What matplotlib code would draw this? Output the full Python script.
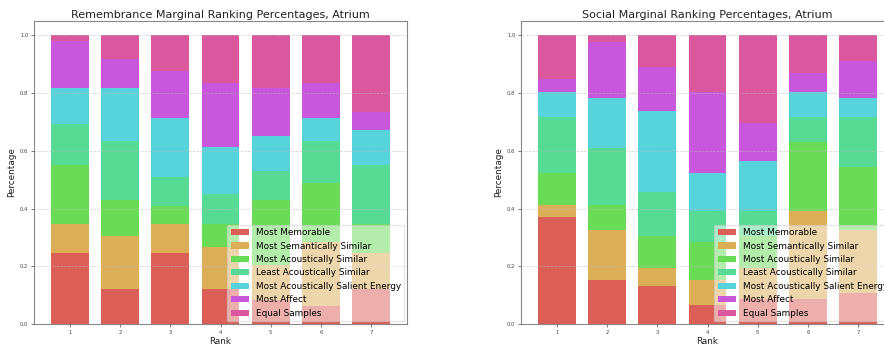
import numpy as np
import matplotlib
matplotlib.use("Agg")
import matplotlib.pyplot as plt
import seaborn as sns

# counts per method at each rank (rank 1..7)
ranks = [1, 2, 3, 4, 5, 6, 7]
methods = ["Most Memorable", "Most Semantically Similar", "Most Acoustically Similar",
           "Least Acoustically Similar", "Most Acoustically Salient Energy",
           "Most Affect", "Equal Samples"]

# Remembrance, 49 rankings
rem_total = 49
rem_memorable = [12, 6, 12, 6, 4, 3, 6]
rem_semantic = [5, 9, 5, 7, 6, 11, 6]
rem_acoustic = [10, 6, 3, 4, 11, 10, 5]
rem_least = [7, 10, 5, 5, 5, 7, 10]
rem_salient = [6, 9, 10, 8, 6, 4, 6]
rem_affect = [8, 5, 8, 11, 8, 6, 3]
rem_equal = [1, 4, 6, 8, 9, 8, 13]

# Social, 46 rankings
soc_total = 46
soc_memorable = [17, 7, 6, 3, 4, 4, 5]
soc_semantic = [2, 8, 3, 4, 5, 14, 10]
soc_acoustic = [5, 4, 5, 6, 5, 11, 10]
soc_least = [9, 9, 7, 5, 4, 4, 8]
soc_salient = [4, 8, 13, 6, 8, 4, 3]
soc_affect = [2, 9, 7, 13, 6, 3, 6]
soc_equal = [7, 1, 5, 9, 14, 6, 4]

pal = sns.hls_palette(10)
colors = [pal[i] for i in [0, 1, 3, 4, 5, 8, 9]]


def stacked(ax, series, total, title):
    bottom = np.zeros(len(ranks))
    for name, vals, c in zip(methods, series, colors):
        frac = np.array(vals) / total
        ax.bar(ranks, frac, 0.75, bottom=bottom, color=c, label=name, zorder=1)
        bottom += frac
    ax.set_title(title, fontsize=8, pad=2.5, color="#222222")
    ax.set_xlabel("Rank", fontsize=6.4, labelpad=2, color="#222222")
    ax.set_ylabel("Percentage", fontsize=6.4, labelpad=3, color="#222222")
    ax.set_xticks(ranks)
    ax.tick_params(labelsize=3.8, length=2, width=0.5, colors="#444444", pad=2)
    ax.yaxis.grid(True, linestyle="--", color="#bbbbbb", linewidth=0.5, alpha=0.7, zorder=2)
    ax.set_axisbelow(False)
    for s in ax.spines.values():
        s.set_color("#888888")
        s.set_linewidth(0.8)
    ax.legend(loc="lower right", fontsize=6.4, borderaxespad=0.3, framealpha=0.5)


fig = plt.figure(figsize=(8.84, 3.47), dpi=100)
ax1 = fig.add_axes([34 / 884, 23 / 347, 373 / 884, 303 / 347])
ax2 = fig.add_axes([521 / 884, 23 / 347, 373 / 884, 303 / 347])

stacked(ax1, [rem_memorable, rem_semantic, rem_acoustic, rem_least, rem_salient, rem_affect, rem_equal],
        rem_total, "Remembrance Marginal Ranking Percentages, Atrium")
stacked(ax2, [soc_memorable, soc_semantic, soc_acoustic, soc_least, soc_salient, soc_affect, soc_equal],
        soc_total, "Social Marginal Ranking Percentages, Atrium")

fig.savefig("out.png", dpi=100)
